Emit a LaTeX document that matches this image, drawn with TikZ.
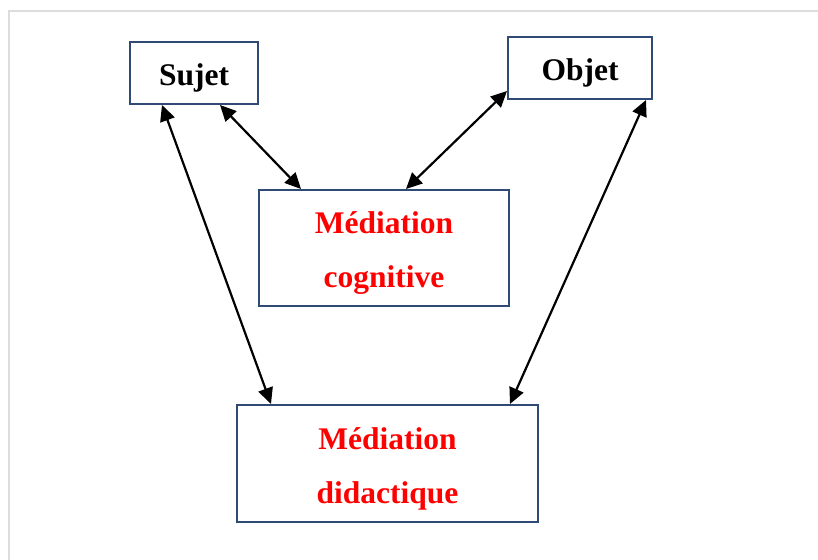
\documentclass[tikz,border=0pt]{standalone}
\usepackage{fontspec}
\setmainfont{Liberation Serif}
\usetikzlibrary{arrows.meta}
\definecolor{boxblue}{HTML}{2F4A75}
\definecolor{framegray}{HTML}{DDDDDD}
\definecolor{medred}{HTML}{FF0000}
\tikzset{
  box/.style={draw=boxblue, line width=2bp, inner sep=0pt},
  lbl/.style={inner sep=0pt, align=center,
    font=\fontsize{31.5bp}{54bp}\selectfont\bfseries},
  tip/.tip={Triangle[length=16bp,width=15bp]},
  link/.style={line width=2.2bp, tip-tip}
}
\begin{document}
\begin{tikzpicture}[x=1bp,y=-1bp]
\useasboundingbox (0,0) rectangle (818,560);
\draw[framegray, line width=1.5bp] (818,11) -- (9,11) -- (9,560);
\node[box, minimum width=128bp, minimum height=62bp] (suj) at (194,73) {};
\node[box, minimum width=144bp, minimum height=62bp] (obj) at (580,68) {};
\node[box, minimum width=250bp, minimum height=116bp] (cog) at (384,248) {};
\node[box, minimum width=301bp, minimum height=117bp] (did) at (387.5,463.5) {};
\node[lbl] (sujt) at ([yshift=-5bp]suj.center) {Sujet};
\node[lbl] (objt) at ([yshift=-5bp]obj.center) {Objet};
\node[lbl, text=medred] (cogt) at ([yshift=-5bp]cog.center) {Médiation\\cognitive};
\node[lbl, text=medred] (didt) at ([yshift=-5bp]did.center) {Médiation\\didactique};
\draw[link] ([xshift=33bp]suj.south west) -- ([xshift=35bp]did.north west);
\draw[link] ([xshift=91bp]suj.south west) -- ([xshift=43bp]cog.north west);
\draw[link] ([yshift=9bp]obj.south west) -- ([xshift=148bp]cog.north west);
\draw[link] ([xshift=-7bp]obj.south east) -- ([xshift=-29bp]did.north east);
\end{tikzpicture}
\end{document}
